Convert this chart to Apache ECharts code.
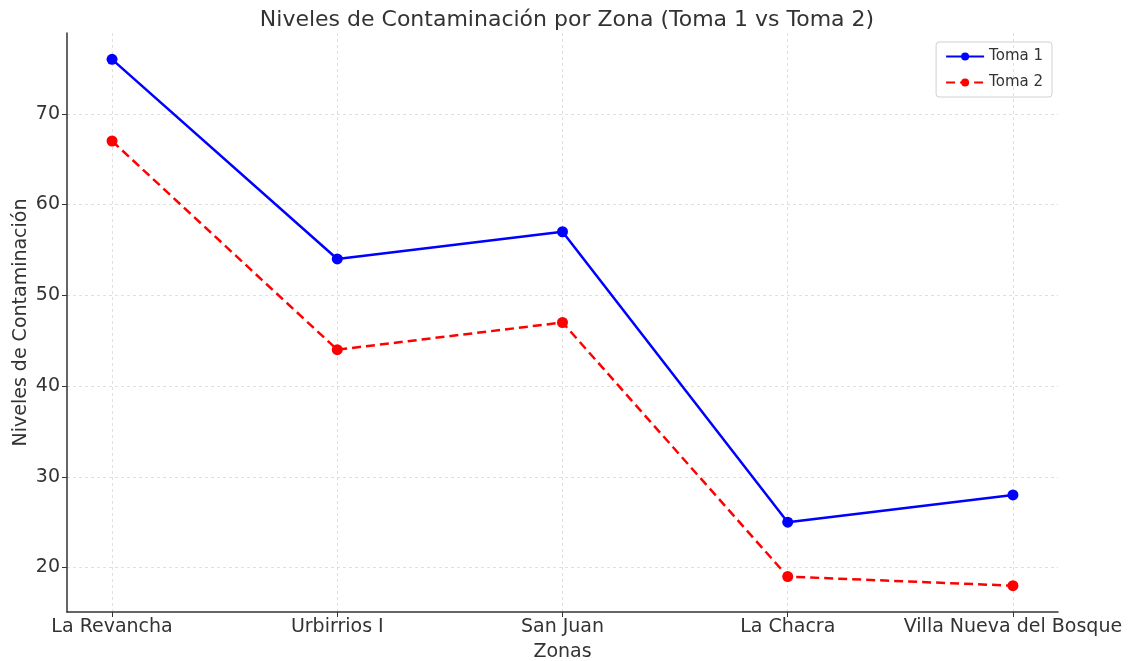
<!DOCTYPE html>
<html>
<head>
<meta charset="utf-8">
<script src="https://cdn.jsdelivr.net/npm/echarts@6/dist/echarts.min.js"></script>
<style>html,body{margin:0;padding:0;background:#fff}#c{width:1130px;height:661px}</style>
</head>
<body>
<div id="c"></div>
<script>
const zonas = ['La Revancha', 'Urbirrios I', 'San Juan', 'La Chacra', 'Villa Nueva del Bosque'];
const toma1 = [76, 54, 57, 25, 28];
const toma2 = [67, 44, 47, 19, 18];
const yTicks = [20, 30, 40, 50, 60, 70];

const xIdx = zonas.map((_, i) => i);
const font = 'DejaVu Sans';
const chart = echarts.init(document.getElementById('c'));
chart.setOption({
  animation: false,
  backgroundColor: '#fff',
  textStyle: { fontFamily: font },
  title: {
    text: 'Niveles de Contaminación por Zona (Toma 1 vs Toma 2)',
    left: 562, textAlign: 'center', top: 4,
    textStyle: { fontFamily: font, fontSize: 22, fontWeight: 'normal', color: '#333' }
  },
  legend: {
    right: 78, top: 42, orient: 'vertical',
    itemWidth: 38, itemHeight: 10, itemGap: 11,
    padding: [7, 9, 7, 9],
    borderColor: '#d0d0d0', borderWidth: 1, borderRadius: 3,
    textStyle: { fontFamily: font, fontSize: 15, color: '#333' }
  },
  grid: { left: 67, right: 72, top: 33, bottom: 49, containLabel: false, outerBoundsMode: 'none' },
  xAxis: {
    type: 'value', min: -0.2, max: 4.2,
    name: 'Zonas', nameLocation: 'middle', nameGap: 31, nameMoveOverlap: false,
    nameTextStyle: { fontFamily: font, fontSize: 19, color: '#333' },
    axisLine: { onZero: false, lineStyle: { color: '#333', width: 1.5 } },
    axisTick: { customValues: xIdx, length: 5, lineStyle: { color: '#333' } },
    axisLabel: { customValues: xIdx, formatter: v => zonas[Math.round(v)], fontSize: 19, color: '#333', margin: 6, fontFamily: font },
    splitLine: { show: true, lineStyle: { color: '#d8d8d8', type: [3, 3], width: 0.8 } }
  },
  yAxis: {
    type: 'value', min: 15.1, max: 78.9,
    name: 'Niveles de Contaminación', nameLocation: 'middle', nameGap: 36, nameRotate: 90, nameMoveOverlap: false,
    nameTextStyle: { fontFamily: font, fontSize: 19, color: '#333' },
    axisLine: { show: true, onZero: false, lineStyle: { color: '#333', width: 1.5 } },
    axisTick: { show: true, customValues: yTicks, length: 5, lineStyle: { color: '#333' } },
    axisLabel: { customValues: yTicks, fontSize: 19, color: '#333', margin: 7, fontFamily: font },
    splitLine: { show: true, lineStyle: { color: '#d8d8d8', type: [3, 3], width: 0.8 } }
  },
  series: [
    {
      name: 'Toma 1', type: 'line',
      data: toma1.map((v, i) => [i, v]),
      symbol: 'circle', symbolSize: 11,
      itemStyle: { color: '#0000ff' },
      lineStyle: { color: '#0000ff', width: 2.5 }
    },
    {
      name: 'Toma 2', type: 'line',
      data: toma2.map((v, i) => [i, v]),
      symbol: 'circle', symbolSize: 11,
      itemStyle: { color: '#ff0000' },
      lineStyle: { color: '#ff0000', width: 2.5, type: [9, 5] }
    }
  ]
});
</script>
</body>
</html>
